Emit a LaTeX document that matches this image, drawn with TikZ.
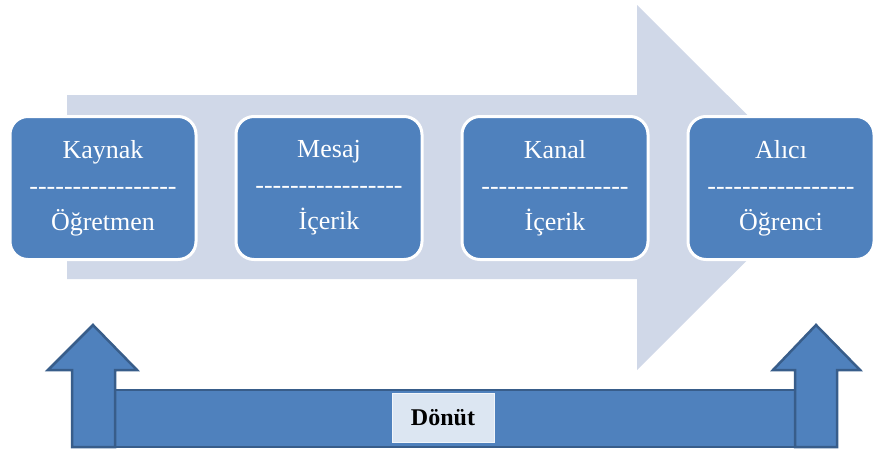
\documentclass[tikz,border=0pt]{standalone}
\usepackage{fontspec}
\setmainfont{Liberation Serif}
\usepackage{xcolor}
\usepackage{tikz}
\usetikzlibrary{positioning}

\definecolor{boxblue}{HTML}{4F81BD}
\definecolor{edgeblue}{HTML}{385D8A}
\definecolor{shaftgray}{HTML}{D0D8E8}
\definecolor{labelfill}{HTML}{DCE6F2}

\newcommand{\hy}{-\kern0pt}
\newcommand{\dashrow}{\hy\hy\hy\hy\hy\hy\hy\hy\hy\hy\hy\hy\hy\hy\hy\hy\hy}

\begin{document}
\begin{tikzpicture}[
    x=1pt, y=-1pt,
    node distance=37pt,
    stagebox/.style={rectangle, rounded corners=18pt, draw=white, line width=3pt, fill=boxblue, minimum width=186pt, minimum height=143pt, align=center, text=white, font=\fontsize{26}{36}\selectfont},
    feedarrow/.style={fill=boxblue, draw=edgeblue, line width=2.5pt, line join=miter},
    feedlabel/.style={rectangle, fill=labelfill, draw=white!60!labelfill, line width=1pt, minimum width=102pt, minimum height=49pt, font=\fontsize{24}{28}\selectfont\bfseries}
]
\useasboundingbox (0,0) rectangle (879,453);
% big process arrow behind the stages
\fill[shaftgray] (67,95) -- (637,95) -- (637,5) -- (820,187.5) -- (637,370) -- (637,279) -- (67,279) -- cycle;

\node[stagebox] (kaynak) at (103,188) {Kaynak\\\dashrow\\Öğretmen};
\node[stagebox, right=of kaynak] (mesaj) {Mesaj\\\dashrow\\İçerik};
\node[stagebox, right=of mesaj] (kanal) {Kanal\\\dashrow\\İçerik};
\node[stagebox, right=of kanal] (alici) {Alıcı\\\dashrow\\Öğrenci};

% feedback
\draw[feedarrow] (100,390) rectangle (810,447);
\draw[feedarrow] (72,447) -- (72,370) -- (48,370) -- (93,325) -- (137,370) -- (115,370) -- (115,447) -- cycle;
\draw[feedarrow] (795,447) -- (795,370) -- (773,370) -- (816,325) -- (860,370) -- (837,370) -- (837,447) -- cycle;
\node[feedlabel] (donut) at (443,417.5) {Dönüt};
\end{tikzpicture}
\end{document}
